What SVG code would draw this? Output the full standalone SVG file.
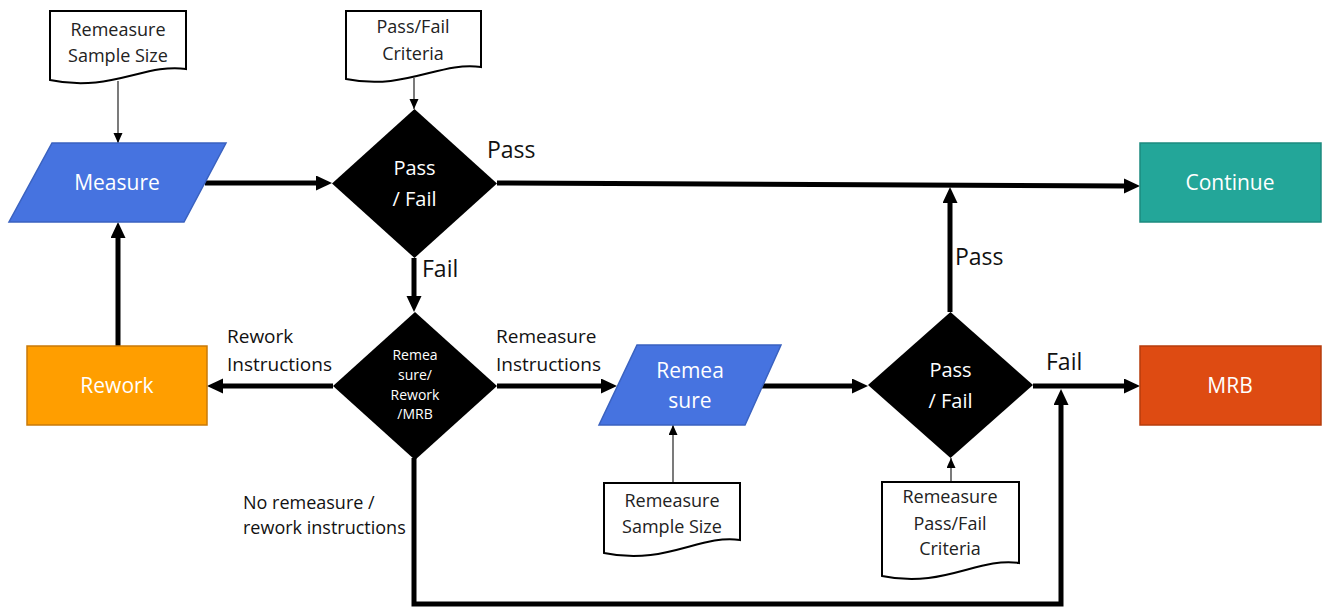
<svg xmlns="http://www.w3.org/2000/svg" width="1323" height="608" viewBox="0 0 1323 608">
<style>
  text { font-family: "Open Sans", "Noto Sans", "Liberation Sans", sans-serif; }
  .doc { fill: #ffffff; stroke: #000000; stroke-width: 2; }
  .doctxt { font-size: 18px; fill: #222222; text-anchor: middle; }
  .node-txt { fill: #ffffff; text-anchor: middle; font-size: 20px; }
  .big-txt { font-size: 21px; }
  .small-txt { font-size: 14px; }
  .dia { fill: #000000; }
  .thick { stroke: #000000; stroke-width: 5; fill: none; marker-end: url(#big); }
  .thin { stroke: #333333; stroke-width: 1.3; fill: none; marker-end: url(#small); }
  .lbl { fill: #111111; font-size: 23px; }
  .lbl2 { fill: #111111; font-size: 19px; }
  .lbl3 { fill: #111111; font-size: 18px; }
</style>
<defs>
  <marker id="big" markerUnits="userSpaceOnUse" markerWidth="18" markerHeight="16" refX="3" refY="7.5" orient="auto">
    <path d="M0,0 L16,7.5 L0,15 Z" fill="#000000"/>
  </marker>
  <marker id="small" markerUnits="userSpaceOnUse" markerWidth="12" markerHeight="10" refX="10" refY="4.5" orient="auto">
    <path d="M0,0 L10,4.5 L0,9 Z" fill="#000000"/>
  </marker>
</defs>
<rect width="1323" height="608" fill="#ffffff"/>

<g id="connectors">
  <line class="thick" x1="205" y1="183" x2="319" y2="183"/>
  <line class="thick" x1="497" y1="183" x2="1127" y2="186"/>
  <line class="thick" x1="414" y1="258" x2="414" y2="299"/>
  <line class="thick" x1="333" y1="386" x2="220" y2="386"/>
  <line class="thick" x1="118" y1="346" x2="118" y2="235"/>
  <line class="thick" x1="497" y1="386" x2="604" y2="386"/>
  <line class="thick" x1="762" y1="386" x2="855" y2="386"/>
  <line class="thick" x1="950" y1="312" x2="950" y2="200"/>
  <line class="thick" x1="1033" y1="386" x2="1127" y2="386"/>
  <path class="thick" d="M414,458 V604 H1061 V402"/>
  <line class="thin" x1="118" y1="81" x2="118" y2="143"/>
  <line class="thin" x1="414" y1="78" x2="414" y2="109"/>
  <line class="thin" x1="673" y1="483" x2="673" y2="425"/>
  <line class="thin" x1="951" y1="482" x2="951" y2="458"/>
  <text class="lbl" x="487" y="158">Pass</text>
  <text class="lbl" x="422" y="277">Fail</text>
  <text class="lbl" x="955" y="265">Pass</text>
  <text class="lbl" x="1046" y="370">Fail</text>
  <text class="lbl2" x="227" y="343">Rework</text>
  <text class="lbl2" x="227" y="371">Instructions</text>
  <text class="lbl2" x="496" y="343">Remeasure</text>
  <text class="lbl2" x="496" y="371">Instructions</text>
  <text class="lbl3" x="243" y="509">No remeasure /</text>
  <text class="lbl3" x="243" y="534">rework instructions</text>
</g>

<g id="doc-sample-size">
  <path class="doc" d="M50,11 H186 V69 C145,63 110,93 50,80 Z"/>
  <text class="doctxt" x="118" y="36">Remeasure</text>
  <text class="doctxt" x="118" y="62">Sample Size</text>
</g>

<g id="doc-criteria">
  <path class="doc" d="M346,11 H481 V67 C440,61 405,91 346,79 Z"/>
  <text class="doctxt" x="413" y="33">Pass/Fail</text>
  <text class="doctxt" x="413" y="60">Criteria</text>
</g>

<g id="measure">
  <path d="M52,143 L226,143 L184,222 L9,222 Z" fill="#4673E0" stroke="#3A62C0" stroke-width="1.5"/>
  <text class="node-txt big-txt" x="117" y="190">Measure</text>
</g>

<g id="decision-1">
  <path class="dia" d="M414.5,109 L497,183.5 L414.5,258 L332,183.5 Z"/>
  <text class="node-txt" x="414.5" y="175">Pass</text>
  <text class="node-txt" x="414.5" y="206">/ Fail</text>
</g>

<g id="continue">
  <rect x="1140" y="143" width="181" height="79" fill="#23A699" stroke="#1C8A7F" stroke-width="1.5"/>
  <text class="node-txt big-txt" x="1230" y="190">Continue</text>
</g>

<g id="decision-2">
  <path class="dia" d="M415,312 L497,386 L415,460 L333,386 Z"/>
  <text class="node-txt small-txt" x="415" y="360">Remea</text>
  <text class="node-txt small-txt" x="415" y="380">sure/</text>
  <text class="node-txt small-txt" x="415" y="400">Rework</text>
  <text class="node-txt small-txt" x="415" y="419">/MRB</text>
</g>

<g id="rework">
  <rect x="27" y="346" width="180" height="79" fill="#FF9E00" stroke="#C97A08" stroke-width="1.5"/>
  <text class="node-txt big-txt" x="117" y="393">Rework</text>
</g>

<g id="remeasure">
  <path d="M637,345 L781,345 L745,425 L599,425 Z" fill="#4673E0" stroke="#3A62C0" stroke-width="1.5"/>
  <text class="node-txt big-txt" x="690" y="378">Remea</text>
  <text class="node-txt big-txt" x="690" y="408">sure</text>
</g>

<g id="doc-remeasure-sample">
  <path class="doc" d="M604,483 H740 V540 C700,534 665,566 604,553 Z"/>
  <text class="doctxt" x="672" y="507">Remeasure</text>
  <text class="doctxt" x="672" y="533">Sample Size</text>
</g>

<g id="decision-3">
  <path class="dia" d="M950.5,312 L1033,385 L950.5,458 L868,385 Z"/>
  <text class="node-txt" x="950.5" y="377">Pass</text>
  <text class="node-txt" x="950.5" y="408">/ Fail</text>
</g>

<g id="doc-remeasure-criteria">
  <path class="doc" d="M882,482 H1019 V563 C978,557 943,589 882,576 Z"/>
  <text class="doctxt" x="950" y="503">Remeasure</text>
  <text class="doctxt" x="950" y="530">Pass/Fail</text>
  <text class="doctxt" x="950" y="555">Criteria</text>
</g>

<g id="mrb">
  <rect x="1140" y="346" width="181" height="79" fill="#DE4B12" stroke="#B63C0C" stroke-width="1.5"/>
  <text class="node-txt big-txt" x="1230" y="393">MRB</text>
</g>
</svg>
